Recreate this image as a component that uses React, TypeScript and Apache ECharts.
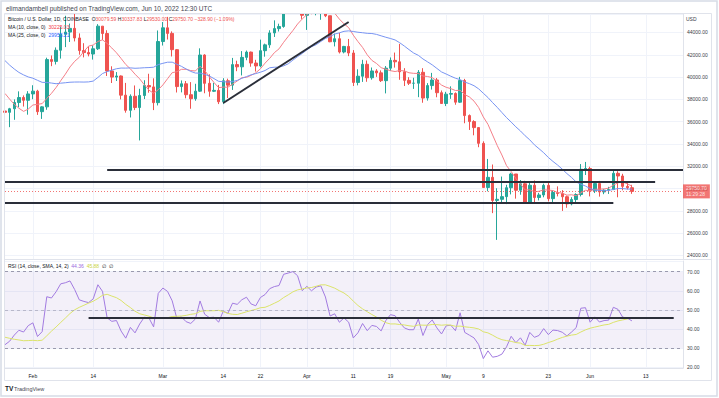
import React, { useEffect, useRef } from "react";
import * as echarts from "echarts";

const FONT = "'Liberation Sans', Arial, sans-serif";

// Warm-up closes (Dec 20, 2021 – Jan 25, 2022), used only for the MA / RSI indicators
const warmupCloses = [
  46680, 48930, 48630, 50820, 50850, 50430, 50800, 50640, 47590, 46470, 47140, 46210,
  47690, 47300, 46440, 45830, 43430, 43080, 41550, 41680, 41860, 41830, 42740, 43920,
  42590, 43080, 43200, 43110, 42250, 42380, 41690, 40710, 36460, 35070, 36280, 36690, 36960,
];

// Daily candles Jan 26 – Jun 10, 2022
const opens = [
  36960, 36840, 37160, 37720, 38170, 37920, 38490, 38740, 36900, 37330, 41570, 41410, 42410, 43840, 44040, 44370,
  43510, 42380, 42200, 42070, 42540, 44570, 43910, 40550, 40000, 40100, 38380, 37020, 38280, 37270, 38350, 39240,
  39120, 37710, 43190, 44420, 43920, 42460, 39150, 39400, 38420, 38060, 38740, 41980, 39440, 38730, 38810, 37790,
  39670, 39280, 41120, 40920, 41770, 42240, 41260, 41000, 42370, 42890, 43960, 44350, 44540, 46830, 47120, 47450,
  47060, 45540, 46280, 45810, 46410, 46600, 45500, 43170, 43440, 42250, 42750, 42160, 39520, 40080, 41150, 39940,
  40550, 40380, 39680, 40800, 41500, 41370, 40480, 39710, 39450, 39450, 40430, 38120, 39240, 39740, 38600, 37630,
  38470, 38530, 37750, 39690, 36550, 36010, 35470, 34060, 30100, 31010, 28940, 29040, 29280, 30080, 31310, 29850,
  30430, 28700, 30300, 29200, 29430, 30290, 29100, 29650, 29560, 29270, 28630, 29020, 29470, 31730, 31800, 29800,
  30450, 29700, 29860, 29910, 31370, 31130, 30200, 30079.59,
];
const highs = [
  38920, 37240, 38000, 38720, 38360, 38740, 39270, 38860, 37390, 41740, 41940, 42660, 44500, 45500, 44800, 45820,
  43920, 43040, 42750, 42850, 44750, 44570, 44200, 40970, 40450, 40150, 39480, 38450, 39250, 38950, 39720, 40300,
  39890, 44180, 44940, 45400, 44100, 42520, 39700, 39650, 39550, 39400, 42580, 42050, 40250, 39490, 39300, 39900,
  39860, 41720, 41470, 42330, 42380, 42290, 41550, 43360, 43000, 44200, 45090, 44790, 46930, 48190, 48100, 47710,
  47600, 46690, 47200, 47440, 46880, 47200, 45500, 43900, 43970, 42800, 43420, 42420, 40700, 41550, 41490, 40860,
  40710, 40600, 40990, 41760, 42200, 42980, 40800, 39990, 39940, 40630, 40800, 39460, 40380, 39920, 38800, 38680,
  39170, 38630, 40020, 39840, 36650, 36130, 35500, 34240, 32660, 32160, 30030, 31080, 30340, 31420, 31310, 30770,
  30700, 30520, 30730, 29620, 30440, 30650, 29830, 30200, 29860, 29370, 29230, 29580, 32200, 32390, 31960, 30670,
  30690, 29950, 30160, 31750, 31560, 31330, 30650, 30337.83,
];
const lows = [
  36250, 35510, 36170, 37300, 37360, 36630, 38020, 36610, 36250, 37070, 40980, 41130, 41660, 42690, 43150, 43200,
  42010, 41770, 41860, 41570, 42430, 43320, 40100, 39470, 39650, 38000, 36810, 36380, 37040, 34320, 38030, 38600,
  37040, 37460, 42830, 43370, 41850, 38620, 38630, 38100, 37160, 37880, 38670, 38550, 38240, 38660, 37580, 37580,
  38120, 38850, 40530, 40150, 41510, 40930, 40500, 40880, 41830, 42620, 43600, 44090, 44430, 46650, 46960, 46600,
  45220, 44230, 45640, 45540, 45140, 45380, 43130, 42750, 42120, 42130, 41880, 39200, 39260, 39570, 39580, 39770,
  40020, 39560, 38540, 40560, 40850, 39760, 39200, 39290, 38940, 38200, 37700, 37890, 38880, 38190, 37600, 37400,
  38050, 37520, 37680, 35860, 35260, 34780, 33710, 30050, 29760, 27800, 25400, 28730, 28610, 29480, 29100, 29450,
  28690, 28670, 28740, 28940, 29220, 28850, 28650, 29300, 28000, 28280, 28500, 28800, 29300, 31220, 29300, 29600,
  29280, 29500, 29520, 29880, 29220, 29850, 29920, 29530,
];
const closes = [
  36840, 37160, 37720, 38170, 37920, 38490, 38740, 36900, 37330, 41570, 41410, 42410, 43840, 44040, 44370, 43510,
  42380, 42200, 42070, 42540, 44570, 43910, 40550, 40000, 40100, 38380, 37020, 38280, 37270, 38350, 39240, 39120,
  37710, 43190, 44420, 43920, 42460, 39150, 39400, 38420, 38060, 38740, 41980, 39440, 38730, 38810, 37790, 39670,
  39280, 41120, 40920, 41770, 42240, 41260, 41000, 42370, 42890, 43960, 44350, 44540, 46830, 47120, 47450, 47060,
  45540, 46280, 45810, 46410, 46600, 45500, 43170, 43440, 42250, 42750, 42160, 39520, 40080, 41150, 39940, 40550,
  40380, 39680, 40800, 41500, 41370, 40480, 39710, 39450, 39450, 40430, 38120, 39240, 39740, 38600, 37630, 38470,
  38530, 37750, 39690, 36550, 36010, 35470, 34060, 30100, 31010, 28940, 29040, 29280, 30080, 31310, 29850, 30430,
  28700, 30300, 29200, 29430, 30290, 29100, 29650, 29560, 29270, 28630, 29020, 29470, 31730, 31800, 29800, 30450,
  29700, 29860, 29910, 31370, 31130, 30200, 30079.6, 29750.7,
];

// Indicator read-outs shown in the RSI legend
const rsiLegendValues = ["44.36", "45.88"];

const firstDay = "2022-01-26";
const dayCount = 147; // axis runs to Jun 21

const tickDates = [
  "2022-02-01", "2022-02-14", "2022-03-01", "2022-03-14", "2022-03-22", "2022-04-01", "2022-04-11",
  "2022-04-19", "2022-05-01", "2022-05-09", "2022-05-23", "2022-06-01", "2022-06-13",
];
const tickTexts = ["Feb", "14", "Mar", "14", "22", "Apr", "11", "19", "May", "9", "23", "Jun", "13"];

// Drawn levels: [start index, end index, price]
const priceLevels = [
  [22, 146, 31730],
  [0, 140, 30620],
  [0, 131, 28710],
];
const trendLine = [
  [47, 37680],
  [74, 44940],
];
const rsiLevel = [18, 144, 45.7];

const UP = "#26a69a";
const DOWN = "#ef5350";

function buildDates(): string[] {
  const out: string[] = [];
  const t0 = Date.parse(firstDay + "T00:00:00Z");
  for (let i = 0; i < dayCount; i++) out.push(new Date(t0 + i * 86400000).toISOString().slice(0, 10));
  return out;
}

function sma(values: number[], n: number): (number | null)[] {
  return values.map((_, i) => {
    if (i < n - 1) return null;
    let s = 0;
    for (let k = i - n + 1; k <= i; k++) s += values[k];
    return s / n;
  });
}

function rsi(values: number[], n: number): (number | null)[] {
  const out: (number | null)[] = values.map(() => null);
  let ag = 0, al = 0;
  for (let i = 1; i < values.length; i++) {
    const ch = values[i] - values[i - 1];
    const g = Math.max(ch, 0), l = Math.max(-ch, 0);
    if (i <= n) {
      ag += g / n; al += l / n;
      if (i === n) out[i] = al === 0 ? 100 : 100 - 100 / (1 + ag / al);
    } else {
      ag = (ag * (n - 1) + g) / n;
      al = (al * (n - 1) + l) / n;
      out[i] = al === 0 ? 100 : 100 - 100 / (1 + ag / al);
    }
  }
  return out;
}

function smaNullable(values: (number | null)[], n: number): (number | null)[] {
  return values.map((_, i) => {
    if (i < n - 1) return null;
    let s = 0;
    for (let k = i - n + 1; k <= i; k++) {
      const v = values[k];
      if (v == null) return null;
      s += v;
    }
    return s / n;
  });
}

export default function App() {
  const ref = useRef<HTMLDivElement>(null);
  useEffect(() => {
    document.body.style.margin = "0";
    const chart = echarts.init(ref.current!, null, { renderer: "svg" });

    const dates = buildDates();
    const tickMap: Record<string, string> = {};
    tickDates.forEach((d, i) => (tickMap[d] = tickTexts[i]));
    const isTick = (_: number, v: string) => tickMap[v] !== undefined;

    const full = warmupCloses.concat(closes);
    const w = warmupCloses.length;
    const ma10 = sma(full, 10).slice(w);
    const ma25 = sma(full, 25).slice(w);
    const rsiFull = rsi(full, 14);
    const rsiSma = smaNullable(rsiFull, 14).slice(w);
    const rsiVals = rsiFull.slice(w);

    const candles = closes.map((c, i) => [opens[i], c, lows[i], highs[i]]);
    const last = closes.length - 1;
    const chg = closes[last] - closes[last - 1];
    const pct = (chg / closes[last - 1]) * 100;
    const f2 = (v: number) => v.toFixed(2);
    const sgn = (v: number) => (v < 0 ? "\u2212" + f2(-v) : "+" + f2(v));

    const gridLine = { show: true, lineStyle: { color: "#f0f3fa", width: 1 } };
    const axisText = { color: "#3b3e47", fontSize: 5, fontFamily: FONT };

    const option: any = {
      animation: false,
      backgroundColor: "#ffffff",
      grid: [
        { left: 5, right: 36, top: 14, height: 245 },
        { left: 5, right: 36, top: 261, height: 107 },
      ],
      xAxis: [
        {
          type: "category", gridIndex: 0, data: dates, boundaryGap: false,
          axisLine: { show: false }, axisTick: { show: false }, axisLabel: { show: false },
          splitLine: { ...gridLine, interval: isTick },
        },
        {
          type: "category", gridIndex: 1, data: dates, boundaryGap: false,
          axisLine: { show: true, lineStyle: { color: "#e0e3eb" } }, axisTick: { show: false },
          axisLabel: { ...axisText, interval: isTick, formatter: (v: string) => tickMap[v] || "", margin: 5, color: "#131722" },
          splitLine: { ...gridLine, interval: isTick },
        },
      ],
      yAxis: [
        {
          type: "value", gridIndex: 0, position: "right", min: 23686, max: 45659, splitNumber: 11, scale: true,
          axisLine: { show: true, lineStyle: { color: "#e0e3eb" } }, axisTick: { show: false },
          axisLabel: { ...axisText, formatter: (v: number) => f2(v), margin: 4, showMinLabel: false, showMaxLabel: false },
          splitLine: gridLine,
        },
        {
          type: "value", gridIndex: 1, position: "right", min: 19.6, max: 75.6, splitNumber: 6, scale: true,
          axisLine: { show: true, lineStyle: { color: "#e0e3eb" } }, axisTick: { show: false },
          axisLabel: { ...axisText, formatter: (v: number) => f2(v), margin: 4, showMinLabel: false, showMaxLabel: false },
          splitLine: gridLine,
        },
      ],
      series: [
        {
          type: "candlestick", xAxisIndex: 0, yAxisIndex: 0, data: candles, barWidth: 3, clip: true,
          itemStyle: { color: UP, color0: DOWN, borderColor: UP, borderColor0: DOWN, borderWidth: 1 },
        },
        {
          type: "line", xAxisIndex: 0, yAxisIndex: 0, data: ma10, showSymbol: false, symbol: "none", clip: true,
          lineStyle: { color: "#f47f88", width: 1 },
          markLine: {
            symbol: "none", silent: true, animation: false,
            data: [
              ...priceLevels.map((l) => [
                { coord: [l[0], l[2]], lineStyle: { color: "#2a2e39", width: 2, type: "solid" }, label: { show: false } },
                { coord: [l[1], l[2]] },
              ]),
              [
                { coord: trendLine[0], lineStyle: { color: "#2a2e39", width: 2, type: "solid" }, label: { show: false } },
                { coord: trendLine[1] },
              ],
              {
                yAxis: closes[last],
                lineStyle: { color: "#ef5350", width: 1, type: [1, 2], opacity: 0.8 },
                label: {
                  show: true, position: "end", distance: 0,
                  formatter: f2(closes[last]) + "\n11:29:28",
                  backgroundColor: "#ef5350", color: "#ffffff", fontSize: 5, lineHeight: 6,
                  fontFamily: FONT, padding: [1, 3, 1, 3],
                },
              },
            ],
          },
        },
        {
          type: "line", xAxisIndex: 0, yAxisIndex: 0, data: ma25, showSymbol: false, symbol: "none", clip: true,
          lineStyle: { color: "#7894f2", width: 1 },
        },
        {
          type: "line", xAxisIndex: 1, yAxisIndex: 1, data: rsiVals, showSymbol: false, symbol: "none", clip: true,
          lineStyle: { color: "#a27be0", width: 1 },
          markArea: {
            silent: true,
            itemStyle: { color: "rgba(126,87,194,0.09)" },
            data: [[{ yAxis: 30 }, { yAxis: 70 }]],
          },
          markLine: {
            symbol: "none", silent: true, animation: false,
            data: [
              { yAxis: 70, lineStyle: { color: "#9a9aae", width: 1, type: [3, 3] }, label: { show: false } },
              { yAxis: 50, lineStyle: { color: "#9a9aae", width: 1, type: [3, 3], opacity: 0.6 }, label: { show: false } },
              { yAxis: 30, lineStyle: { color: "#9a9aae", width: 1, type: [3, 3] }, label: { show: false } },
              [
                { coord: [rsiLevel[0], rsiLevel[2]], lineStyle: { color: "#2a2e39", width: 2, type: "solid" }, label: { show: false } },
                { coord: [rsiLevel[1], rsiLevel[2]] },
              ],
            ],
          },
        },
        {
          type: "line", xAxisIndex: 1, yAxisIndex: 1, data: rsiSma, showSymbol: false, symbol: "none", clip: true,
          lineStyle: { color: "#dbe36a", width: 1 },
        },
      ],
      graphic: [
        // white header band: hides candle parts that rise above the price pane
        { type: "rect", shape: { x: 0, y: 0, width: 719, height: 13.5 }, style: { fill: "#ffffff" }, silent: true, z: 99 },
        { type: "rect", shape: { x: 1, y: 1, width: 716, height: 395 }, style: { fill: "none", stroke: "#d6dce6", lineWidth: 1.5 }, silent: true, z: 100 },
        { type: "rect", shape: { x: 4.5, y: 13.5, width: 707, height: 367 }, style: { fill: "none", stroke: "#e0e3eb", lineWidth: 1 }, silent: true, z: 100 },
        { type: "line", shape: { x1: 4.5, y1: 259.5, x2: 711.5, y2: 259.5 }, style: { stroke: "#e0e3eb", lineWidth: 1 }, silent: true, z: 100 },
        {
          type: "text", left: 6, top: 5, z: 101,
          style: { text: "elimandambell published on TradingView.com, Jun 10, 2022 12:30 UTC", fill: "#434651", fontSize: 6.5, fontFamily: FONT },
        },
        {
          type: "text", left: 8, top: 16.5, z: 101,
          style: {
            text: `{t|Bitcoin / U.S. Dollar, 1D, COINBASE}  {t|O}{r|${f2(opens[last])}} {t|H}{r|${f2(highs[last])}} {t|L}{r|${f2(lows[last])}} {t|C}{r|${f2(closes[last])}} {r|${sgn(chg)} (${sgn(pct)}%)}`,
            fontSize: 5, fontFamily: FONT,
            rich: { t: { fill: "#131722", fontSize: 5, fontFamily: FONT }, r: { fill: "#ef5350", fontSize: 5, fontFamily: FONT } },
          },
        },
        {
          type: "text", left: 8, top: 24.5, z: 101,
          style: {
            text: `{t|MA (10, close, 0)}  {r|${f2(ma10[last] as number)}}`, fontSize: 5, fontFamily: FONT,
            rich: { t: { fill: "#131722", fontSize: 5, fontFamily: FONT }, r: { fill: "#f23645", fontSize: 5, fontFamily: FONT } },
          },
        },
        {
          type: "text", left: 8, top: 32, z: 101,
          style: {
            text: `{t|MA (25, close, 0)}  {b|${f2(ma25[last] as number)}}`, fontSize: 5, fontFamily: FONT,
            rich: { t: { fill: "#131722", fontSize: 5, fontFamily: FONT }, b: { fill: "#2962ff", fontSize: 5, fontFamily: FONT } },
          },
        },
        {
          type: "text", left: 8, top: 263.5, z: 101,
          style: {
            text: `{t|RSI (14, close, SMA, 14, 2)}  {p|${rsiLegendValues[0]}}  {y|${rsiLegendValues[1]}}  {t|\u2205}  {t|\u2205}`,
            fontSize: 5, fontFamily: FONT,
            rich: {
              t: { fill: "#131722", fontSize: 5, fontFamily: FONT },
              p: { fill: "#9c6ade", fontSize: 5, fontFamily: FONT },
              y: { fill: "#c9d43a", fontSize: 5, fontFamily: FONT },
            },
          },
        },
        {
          type: "text", left: 686, top: 16.5, z: 101,
          style: { text: "USD", fill: "#3b3e47", fontSize: 5, fontFamily: FONT },
        },
        {
          type: "text", left: 5, top: 385, z: 101,
          style: { text: "TV", fill: "#131722", fontSize: 6.5, fontWeight: "bold", fontFamily: FONT },
        },
        {
          type: "text", left: 14, top: 385.5, z: 101,
          style: { text: "TradingView", fill: "#434651", fontSize: 5.5, fontFamily: FONT },
        },
      ],
    };

    chart.setOption(option);
    return () => chart.dispose();
  }, []);
  return <div ref={ref} style={{ width: 719, height: 398, background: "#fff" }} />;
}
